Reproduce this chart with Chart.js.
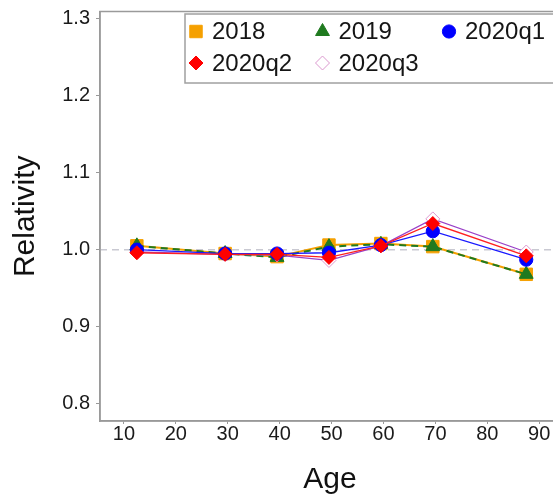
<!DOCTYPE html>
<html>
<head>
<meta charset="utf-8">
<script src="https://cdn.jsdelivr.net/npm/chart.js"></script>
<style>
  html, body { margin: 0; padding: 0; background: #ffffff; overflow: hidden; }
  #wrap { width: 553px; height: 495px; overflow: hidden; position: relative; }
  canvas { display: block; }
</style>
</head>
<body>
<div id="wrap"><canvas id="c" width="580" height="495"></canvas></div>
<script>
// Age band positions (x) and relativity by period
const ages = [12.5, 29.5, 39.5, 49.5, 59.5, 69.5, 87.5];
const rel2018   = [1.005, 0.995, 0.991, 1.006, 1.008, 1.004, 0.968];
const rel2019   = [1.005, 0.995, 0.990, 1.004, 1.007, 1.004, 0.968];
const rel2020q1 = [1.000, 0.995, 0.995, 0.996, 1.006, 1.024, 0.987];
const rel2020q2 = [0.996, 0.994, 0.994, 0.990, 1.005, 1.034, 0.992];
const rel2020q3 = [0.997, 0.994, 0.993, 0.986, 1.005, 1.040, 0.997];

const seriesNames = ['2018', '2019', '2020q1', '2020q2', '2020q3'];
const xTicks = [10, 20, 30, 40, 50, 60, 70, 80, 90];
const yTicks = [0.8, 0.9, 1.0, 1.1, 1.2, 1.3];
const refLevel = 1.0;

const FONT = "'Liberation Sans', Arial, sans-serif";
const toPoints = vals => vals.map((v, i) => ({ x: ages[i], y: v }));

const styles = {
  '2018':   { line: '#f5a000', fill: '#f5a000', border: '#f5a000', style: 'rect',     r: 8.8, w: 2,   dash: [],     order: 5 },
  '2019':   { line: '#1f7a1f', fill: '#1f7a1f', border: '#1f7a1f', style: 'triangle', r: 8,   w: 2,   dash: [7, 5], order: 4 },
  '2020q1': { line: '#1a1aff', fill: '#0000ff', border: '#0000ff', style: 'circle',   r: 6.6, w: 1.3, dash: [],     order: 2 },
  '2020q2': { line: '#ff2020', fill: '#ff0000', border: '#ff0000', style: 'rectRot',  r: 7,   w: 1.3, dash: [],     order: 1 },
  '2020q3': { line: '#9a40c8', fill: '#ffffff', border: '#dc98cf', style: 'rectRot',  r: 7,   w: 1.3, dash: [],     order: 3 }
};
const seriesValues = [rel2018, rel2019, rel2020q1, rel2020q2, rel2020q3];

const datasets = seriesNames.map((name, i) => {
  const s = styles[name];
  return {
    label: name,
    data: toPoints(seriesValues[i]),
    borderColor: s.line,
    borderWidth: s.w,
    borderDash: s.dash,
    backgroundColor: s.fill,
    pointStyle: s.style,
    pointRadius: s.r,
    pointHoverRadius: s.r,
    pointBackgroundColor: s.fill,
    pointBorderColor: s.border,
    pointBorderWidth: 1,
    tension: 0,
    fill: false,
    order: s.order
  };
});

// Frame around the plot and the dashed reference level
const framePlugin = {
  id: 'frame',
  beforeDatasetsDraw(chart) {
    const { ctx, chartArea: a, scales } = chart;
    ctx.save();
    const y = scales.y.getPixelForValue(refLevel);
    ctx.strokeStyle = '#c9c9d2';
    ctx.lineWidth = 1.5;
    ctx.setLineDash([7, 5]);
    ctx.beginPath();
    ctx.moveTo(a.left, y);
    ctx.lineTo(a.right, y);
    ctx.stroke();
    ctx.setLineDash([]);
    ctx.strokeStyle = '#9a9a9a';
    ctx.lineWidth = 1.5;
    ctx.strokeRect(a.left, a.top, a.right - a.left, a.bottom - a.top);
    ctx.restore();
  }
};

// Boxed legend in three columns inside the plot
const legendPlugin = {
  id: 'boxLegend',
  afterDatasetsDraw(chart) {
    const { ctx, chartArea: a } = chart;
    const boxX = a.left + 85, boxY = a.top + 2.5, boxW = 420, boxH = 69;
    ctx.save();
    ctx.fillStyle = '#ffffff';
    ctx.fillRect(boxX, boxY, boxW, boxH);
    ctx.strokeStyle = '#a0a0a0';
    ctx.lineWidth = 1.5;
    ctx.strokeRect(boxX, boxY, boxW, boxH);
    ctx.font = '24px ' + FONT;
    ctx.textBaseline = 'middle';
    ctx.textAlign = 'left';
    const colW = 126.5, rowH = 31.5;
    seriesNames.forEach((name, i) => {
      const s = styles[name];
      const col = i % 3, row = Math.floor(i / 3);
      const mx = boxX + 11 + col * colW;
      const my = boxY + 17.5 + row * rowH;
      ctx.fillStyle = s.fill;
      ctx.strokeStyle = s.border;
      ctx.lineWidth = 1;
      Chart.helpers.drawPoint(ctx, { pointStyle: s.style, radius: s.r, rotation: 0, borderWidth: 1 }, mx, my);
      ctx.fillStyle = '#151515';
      ctx.fillText(name, mx + 16, my + 1);
    });
    ctx.restore();
  }
};

new Chart(document.getElementById('c'), {
  type: 'line',
  data: { datasets },
  plugins: [framePlugin, legendPlugin],
  options: {
    responsive: false,
    animation: false,
    devicePixelRatio: 1,
    layout: { padding: { top: 11.5, right: 20, left: 0, bottom: 0 } },
    plugins: { legend: { display: false }, tooltip: { enabled: false } },
    scales: {
      x: {
        type: 'linear',
        min: 5.4,
        max: 94,
        afterBuildTicks: s => { s.ticks = xTicks.map(v => ({ value: v })); },
        afterFit: s => { s.height = 74; s.paddingLeft = 0; s.paddingRight = 0; },
        ticks: {
          color: '#1a1a1a',
          font: { family: FONT, size: 20, lineHeight: 1.2 },
          padding: -2,
          maxRotation: 0,
          callback: v => String(v)
        },
        grid: { drawOnChartArea: false, drawTicks: true, tickLength: 3, color: '#999999' },
        border: { display: true, color: '#999999', width: 1.5 },
        title: {
          display: true, text: 'Age', color: '#111111',
          font: { family: FONT, size: 30, lineHeight: 1.2 },
          padding: { top: 0, bottom: -3 }
        }
      },
      y: {
        type: 'linear',
        min: 0.7774,
        max: 1.3095,
        afterBuildTicks: s => { s.ticks = yTicks.map(v => ({ value: v })); },
        afterFit: s => { s.width = 100; s.paddingTop = 0; s.paddingBottom = 0; },
        ticks: {
          color: '#1a1a1a',
          font: { family: FONT, size: 20, lineHeight: 1.2 },
          padding: 6,
          callback: v => Number(v).toFixed(1)
        },
        grid: { drawOnChartArea: false, drawTicks: true, tickLength: 4, color: '#999999' },
        border: { display: true, color: '#999999', width: 1.5 },
        title: {
          display: true, text: 'Relativity', color: '#111111',
          font: { family: FONT, size: 30, lineHeight: 1.2 },
          padding: { top: 8, bottom: 0 }
        }
      }
    }
  }
});
</script>
</body>
</html>
